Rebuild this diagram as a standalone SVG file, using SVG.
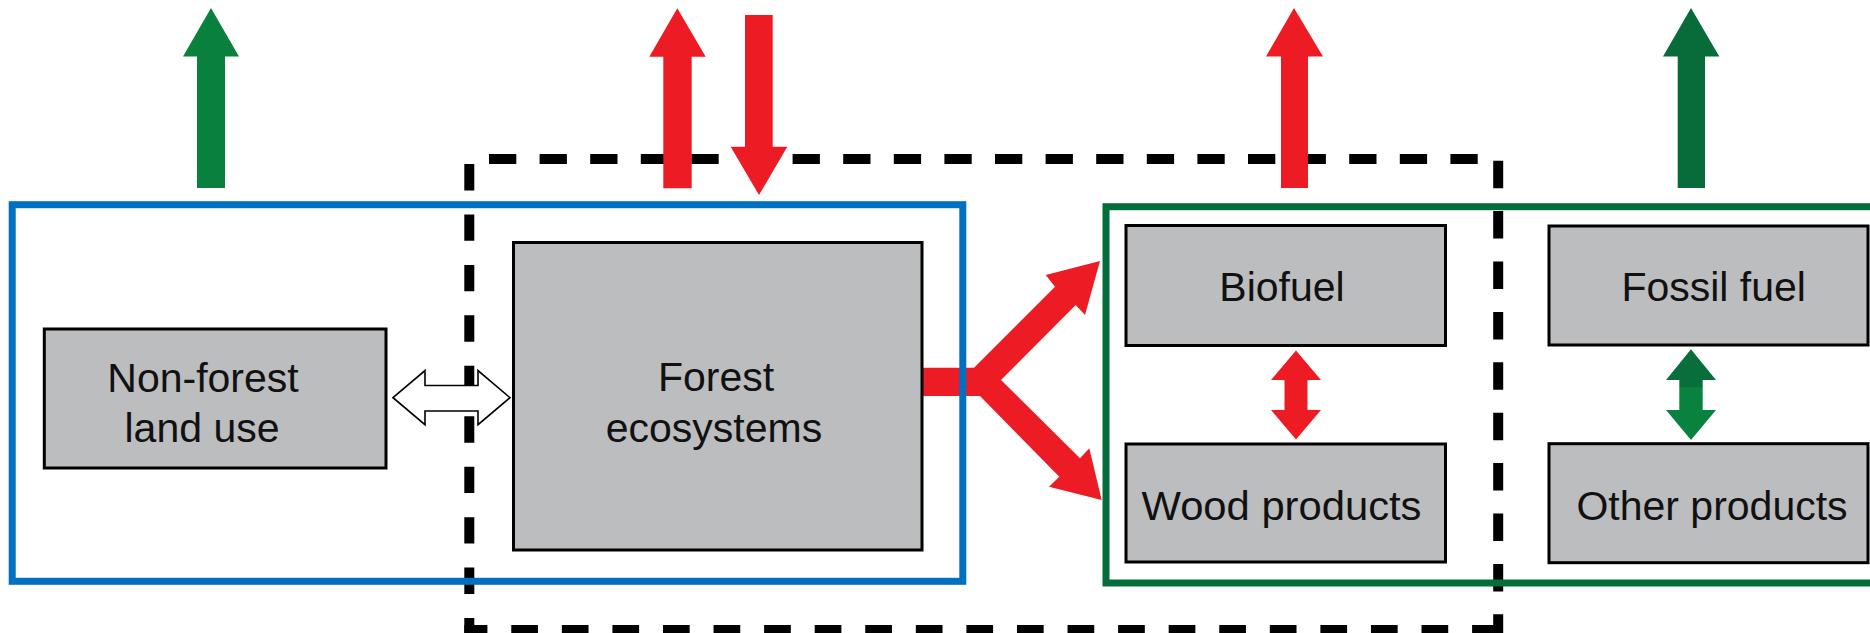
<svg xmlns="http://www.w3.org/2000/svg" width="1870" height="633" viewBox="0 0 1870 633">
<style>
.box{fill:#bcbdbf;stroke:#000;stroke-width:3}
.lbl{font-family:"Liberation Sans",Arial,sans-serif;font-size:41px;fill:#111;text-anchor:middle}
.dash{stroke:#000;stroke-width:10;fill:none}
.red{fill:#ed1c24}
</style>
<defs>
<linearGradient id="gdbl" x1="0" y1="0" x2="0" y2="1">
<stop offset="0" stop-color="#086e3b"/><stop offset="0.42" stop-color="#086e3b"/>
<stop offset="0.42" stop-color="#0a823f"/><stop offset="1" stop-color="#0a823f"/>
</linearGradient>
</defs>
<rect width="1870" height="633" fill="#fff"/>
<g id="system-boundary">
<line class="dash" x1="489" y1="159" x2="1478" y2="159" stroke-dasharray="27.3 23.3"/>
<line class="dash" x1="469.3" y1="164" x2="469.3" y2="635" stroke-dasharray="26.4 24.05"/>
<line class="dash" x1="1498.2" y1="160.7" x2="1498.2" y2="635" stroke-dasharray="27.5 22.9"/>
<line class="dash" x1="464.3" y1="630" x2="1498" y2="630" stroke-dasharray="26.7 23.87" stroke-dashoffset="3.6"/>
</g>
<g id="connectors">
<path d="M197,188 V56.5 H183 L211,8 L239,56.5 H225 V188 Z" fill="#0a803e"/>
<path class="red" d="M663.3,188.3 V56.7 H649.3 L677.3,8.3 L705.7,56.7 H691.7 V188.3 Z"/>
<path class="red" d="M745,15 H772.7 V146.7 H787.3 L759,195 L730.7,146.7 H745 Z"/>
<path class="red" d="M1281,188 V56.5 H1266 L1294,8 L1323,56.5 H1308 V188 Z"/>
<path d="M1677.7,188 V56.5 H1663 L1691,8 L1719.3,56.5 H1705 V188 Z" fill="#086b3a"/>
<path class="red" d="M922,367.7 H974 L1055,286.7 L1045.7,275 L1100,261 L1085,315 L1075.7,305 L1001,380 L1080,458.3 L1089.3,448.3 L1101.7,500 L1049,486.7 L1059.3,476.7 L980,396 H922 Z"/>
<path d="M393,397.7 L425,370.6 V385.5 H478 V370.6 L510,397.7 L478,424.7 V411 H425 V424.7 Z" fill="#fff" stroke="#000" stroke-width="1.6" stroke-linejoin="miter"/>
<path class="red" d="M1296,350.4 L1321,380 H1307.5 V410 H1321 L1296,439.5 L1271,410 H1284.5 V380 H1271 Z"/>
<path d="M1691,349.3 L1716,380 H1702.7 V410 H1716 L1691,440 L1666,410 H1679.3 V380 H1666 Z" fill="url(#gdbl)"/>
</g>
<g id="land-use-boundary">
<rect x="12.2" y="204.7" width="950.6" height="376.6" fill="none" stroke="#0070c0" stroke-width="7"/>
</g>
<g id="products-boundary">
<rect x="1106" y="206.7" width="800" height="376.3" fill="none" stroke="#036e3b" stroke-width="7"/>
</g>
<g id="non-forest">
<rect class="box" x="44.3" y="329" width="341.7" height="139"/>
<text class="lbl" x="203" y="391.6">Non-forest</text>
<text class="lbl" x="202" y="442">land use</text>
</g>
<g id="forest">
<rect class="box" x="513.5" y="242.5" width="408.5" height="307.5"/>
<text class="lbl" x="716" y="391">Forest</text>
<text class="lbl" x="714" y="442">ecosystems</text>
</g>
<g id="biofuel">
<rect class="box" x="1126" y="225.5" width="319.5" height="120"/>
<text class="lbl" x="1282" y="301">Biofuel</text>
</g>
<g id="wood-products">
<rect class="box" x="1126" y="444" width="319.5" height="118"/>
<text class="lbl" x="1281.5" y="520" textLength="280" lengthAdjust="spacingAndGlyphs">Wood products</text>
</g>
<g id="fossil-fuel">
<rect class="box" x="1549" y="226" width="319" height="119"/>
<text class="lbl" x="1713.7" y="301">Fossil fuel</text>
</g>
<g id="other-products">
<rect class="box" x="1549" y="443.7" width="319" height="119"/>
<text class="lbl" x="1712" y="520">Other products</text>
</g>
</svg>
